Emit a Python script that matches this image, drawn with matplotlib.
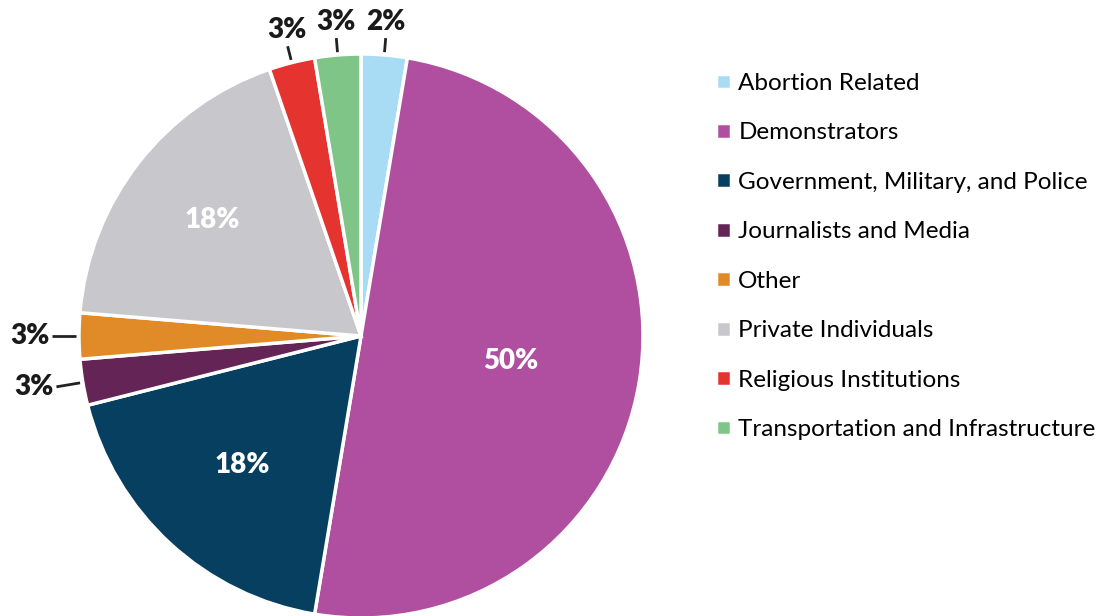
import numpy as np
import matplotlib.pyplot as plt

categories = ["Abortion Related", "Demonstrators", "Government, Military, and Police",
              "Journalists and Media", "Other", "Private Individuals",
              "Religious Institutions", "Transportation and Infrastructure"]
counts = [1, 19, 7, 1, 1, 7, 1, 1]
pct_labels = ["2%", "50%", "18%", "3%", "3%", "18%", "3%", "3%"]
colors = ["#a8dcf4", "#b04f9f", "#073f61", "#652456",
          "#e08b28", "#c8c7cc", "#e5332f", "#7fc587"]

plt.rcParams['font.family'] = ['Lato', 'DejaVu Sans']

fig = plt.figure(figsize=(11.05, 6.16), dpi=100)
ax = fig.add_axes([79 / 1105, -2 / 616, 564 / 1105, 564 / 616])

wedges, _ = ax.pie(counts, colors=colors, startangle=90, counterclock=False,
                   radius=1, wedgeprops=dict(edgecolor='white', linewidth=2.5))
ax.set_xlim(-1, 1)
ax.set_ylim(-1, 1)
ax.set_aspect('equal')

# inner labels for big slices, outer labels with leader lines for small ones
for i, (w, lab, n) in enumerate(zip(wedges, pct_labels, counts)):
    mid = np.deg2rad((w.theta1 + w.theta2) / 2)
    c, s = np.cos(mid), np.sin(mid)
    if n >= 5:
        r = 0.54 if n > 10 else (0.62 if i == 2 else 0.67)
        ax.text(r * c, r * s, lab, ha='center', va='center', color='white',
                fontsize=20, fontweight='heavy')
    elif abs(c) > 0.7:
        ax.plot([1.01 * c, 1.095 * c], [1.01 * s, 1.095 * s], color='#222222',
                lw=2, solid_capstyle='butt', clip_on=False)
        ax.text(1.105 * c, 1.105 * s, lab, ha='right', va='center',
                fontsize=20, fontweight='heavy', color='#1a1a1a')
    else:
        ax.plot([1.01 * c, 1.06 * c], [1.01 * s, 1.06 * s], color='#222222',
                lw=2, solid_capstyle='butt', clip_on=False)
        ax.text(1.07 * c, 1.07 * s, lab, ha='center', va='bottom',
                fontsize=20, fontweight='heavy', color='#1a1a1a')

fig.legend(wedges, categories, loc='upper left', bbox_to_anchor=(716 / 1105, 1 - 73 / 616),
           frameon=False, fontsize=17.5, handlelength=0.62, handleheight=0.62,
           handletextpad=0.3, labelspacing=1.17, borderaxespad=0, borderpad=0)

fig.savefig('out.png', dpi=100)
